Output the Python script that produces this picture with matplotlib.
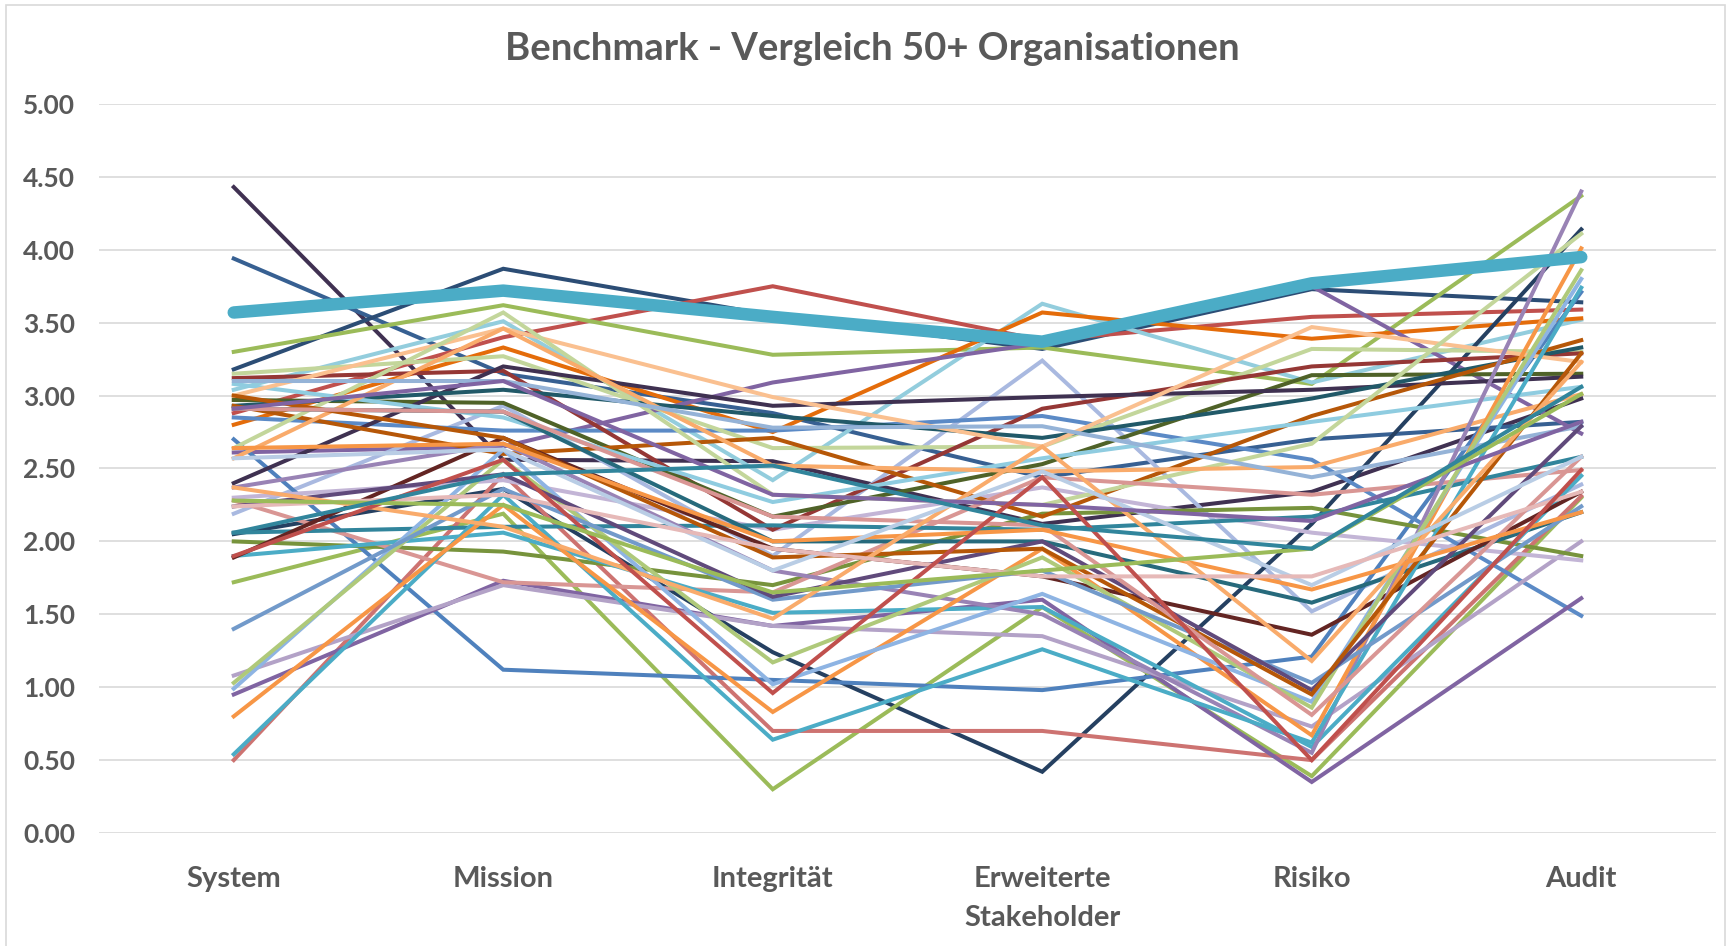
import matplotlib.pyplot as plt
from matplotlib.patches import Rectangle

categories = ["System", "Mission", "Integrität", "Erweiterte\nStakeholder", "Risiko", "Audit"]
yticks = [0.0, 0.5, 1.0, 1.5, 2.0, 2.5, 3.0, 3.5, 4.0, 4.5, 5.0]

# highlighted organisation (thick line)
highlight = [3.57, 3.72, 3.54, 3.37, 3.77, 3.95]

# the other organisations, one row per line: System, Mission, Integritaet, Erweiterte, Risiko, Audit
orgs = [
    [4.43, 2.56, 2.55, 2.12, 2.34, 2.98],
    [3.94, 3.15, 2.88, 2.44, 2.70, 2.82],
    [3.18, 3.87, 3.55, 3.32, 3.73, 3.64],
    [2.88, 3.40, 3.75, 3.38, 3.54, 3.59],
    [3.30, 3.62, 3.28, 3.33, 3.08, 4.37],
    [3.04, 3.51, 2.42, 3.63, 3.09, 3.52],
    [2.80, 3.33, 2.75, 3.57, 3.39, 3.53],
    [2.61, 2.65, 3.09, 3.36, 3.75, 2.74],
    [2.19, 2.93, 1.90, 3.24, 1.52, 2.39],
    [2.05, 2.36, 1.24, 0.42, 2.12, 4.14],
    [1.72, 2.19, 0.30, 1.55, 0.39, 2.30],
    [0.50, 2.46, 0.70, 0.70, 0.50, 2.31],
    [2.70, 1.12, 1.05, 0.98, 1.21, 3.71],
    [2.85, 2.76, 2.76, 2.86, 2.56, 1.49],
    [0.95, 1.73, 1.42, 1.60, 0.35, 1.61],
    [1.08, 1.70, 1.42, 1.35, 0.73, 2.00],
    [2.30, 2.42, 2.08, 2.37, 2.06, 1.87],
    [2.00, 1.93, 1.70, 2.19, 2.23, 1.90],
    [3.15, 3.27, 2.64, 2.65, 3.32, 3.30],
    [3.12, 3.17, 2.08, 2.91, 3.20, 3.29],
    [2.97, 2.95, 2.17, 2.53, 3.14, 3.15],
    [2.40, 3.20, 2.93, 2.99, 3.04, 3.13],
    [2.93, 3.04, 2.86, 2.71, 2.98, 3.33],
    [2.93, 2.60, 2.71, 2.17, 2.86, 3.38],
    [3.08, 2.85, 2.27, 2.57, 2.82, 3.06],
    [3.00, 3.46, 2.99, 2.65, 3.47, 3.23],
    [2.64, 3.57, 2.32, 2.25, 2.67, 4.11],
    [2.57, 3.46, 2.52, 2.48, 2.51, 3.01],
    [3.10, 3.10, 2.78, 2.79, 2.44, 2.79],
    [2.28, 1.72, 1.65, 2.44, 2.32, 2.49],
    [2.06, 2.10, 2.11, 2.08, 2.17, 2.58],
    [2.91, 2.89, 2.00, 2.00, 1.58, 2.20],
    [1.90, 2.06, 1.51, 1.55, 0.59, 2.45],
    [1.89, 2.71, 1.95, 1.76, 1.36, 2.34],
    [2.37, 2.67, 1.80, 1.50, 0.55, 4.40],
    [0.54, 2.32, 0.64, 1.26, 0.62, 3.74],
    [0.80, 2.25, 0.83, 1.95, 0.67, 4.01],
    [0.99, 2.63, 1.02, 1.64, 0.90, 3.80],
    [1.03, 2.56, 1.17, 1.89, 0.86, 3.86],
    [1.40, 2.36, 1.60, 1.80, 1.03, 2.24],
    [2.24, 2.46, 1.62, 2.00, 0.98, 2.79],
    [3.00, 2.71, 1.89, 1.95, 0.95, 3.29],
    [2.91, 2.89, 2.17, 2.11, 0.81, 2.58],
    [2.64, 2.67, 2.00, 2.08, 1.67, 2.20],
    [2.37, 2.10, 1.47, 2.65, 1.18, 3.23],
    [2.57, 2.63, 1.80, 2.48, 1.70, 2.58],
    [2.24, 2.32, 1.95, 1.76, 1.76, 2.34],
    [2.91, 3.10, 2.32, 2.25, 2.14, 2.82],
    [1.90, 2.56, 0.96, 2.44, 0.50, 2.49],
    [2.28, 2.25, 1.65, 1.80, 1.95, 3.01],
    [2.06, 2.46, 2.52, 2.11, 1.95, 3.06],
]

colors = [
    "#403152", "#376092", "#2C4D75", "#C0504D", "#9BBB59", "#93CDDD",
    "#E46C0A", "#8064A2", "#A9B9E0", "#254061", "#9BBB59", "#CD7371",
    "#4F81BD", "#5B8AC6", "#8064A2", "#B3A2C7", "#C3B5D6", "#77933C",
    "#C3D69B", "#953735", "#4F6228", "#3F3151", "#215968", "#B65708",
    "#8FCCE0", "#FAC090", "#C3D69B", "#F9AB6B", "#95B3D7", "#D99694",
    "#31859C", "#276A7C", "#4BACC6", "#632523", "#9983B5", "#4BACC6",
    "#F79646", "#8EB4E3", "#AFC97A", "#729ACA", "#604A7B", "#B65708",
    "#D99694", "#F79646", "#F9AB6B", "#B9CDE5", "#E6B9B8", "#8064A2",
    "#C0504D", "#9BBB59", "#31859C",
]

plt.rcParams['font.family'] = ['Lato', 'DejaVu Sans']
grey = "#595959"

fig = plt.figure(figsize=(17.31, 9.46), dpi=100)
fig.patches.append(Rectangle((6 / 1731, -0.01), 1719 / 1731, 1 - 5 / 946 + 0.01,
                             transform=fig.transFigure, fill=False,
                             edgecolor="#D9D9D9", linewidth=1.2))
ax = fig.add_axes([99 / 1731, 1 - 833 / 946, 1617 / 1731, 729 / 946])

x = list(range(len(categories)))
for row, c in zip(orgs, colors):
    ax.plot(x, row, color=c, linewidth=2.9, solid_joinstyle="miter", zorder=2)
ax.plot(x, highlight, color="#4BACC6", linewidth=9, solid_capstyle="round", zorder=3)

ax.set_xlim(-0.5, 5.5)
ax.set_ylim(0, 5)
ax.set_yticks(yticks)
ax.set_yticklabels([f"{v:.2f}" for v in yticks])
ax.set_xticks(x)
ax.set_xticklabels(categories, linespacing=1.6)
ax.grid(axis="y", color="#D9D9D9", linewidth=1.2, zorder=0)
ax.set_axisbelow(True)
for s in ax.spines.values():
    s.set_visible(False)
ax.tick_params(axis="both", length=0, labelcolor=grey)
ax.tick_params(axis="y", pad=17, labelsize=19)
ax.tick_params(axis="x", pad=24, labelsize=21)
for t in ax.get_xticklabels() + ax.get_yticklabels():
    t.set_fontweight("bold")

fig.text(0.504, 0.948, "Benchmark - Vergleich 50+ Organisationen", ha="center", va="center",
         fontsize=27.5, fontweight="bold", color=grey)

fig.savefig("out.png", dpi=100)
